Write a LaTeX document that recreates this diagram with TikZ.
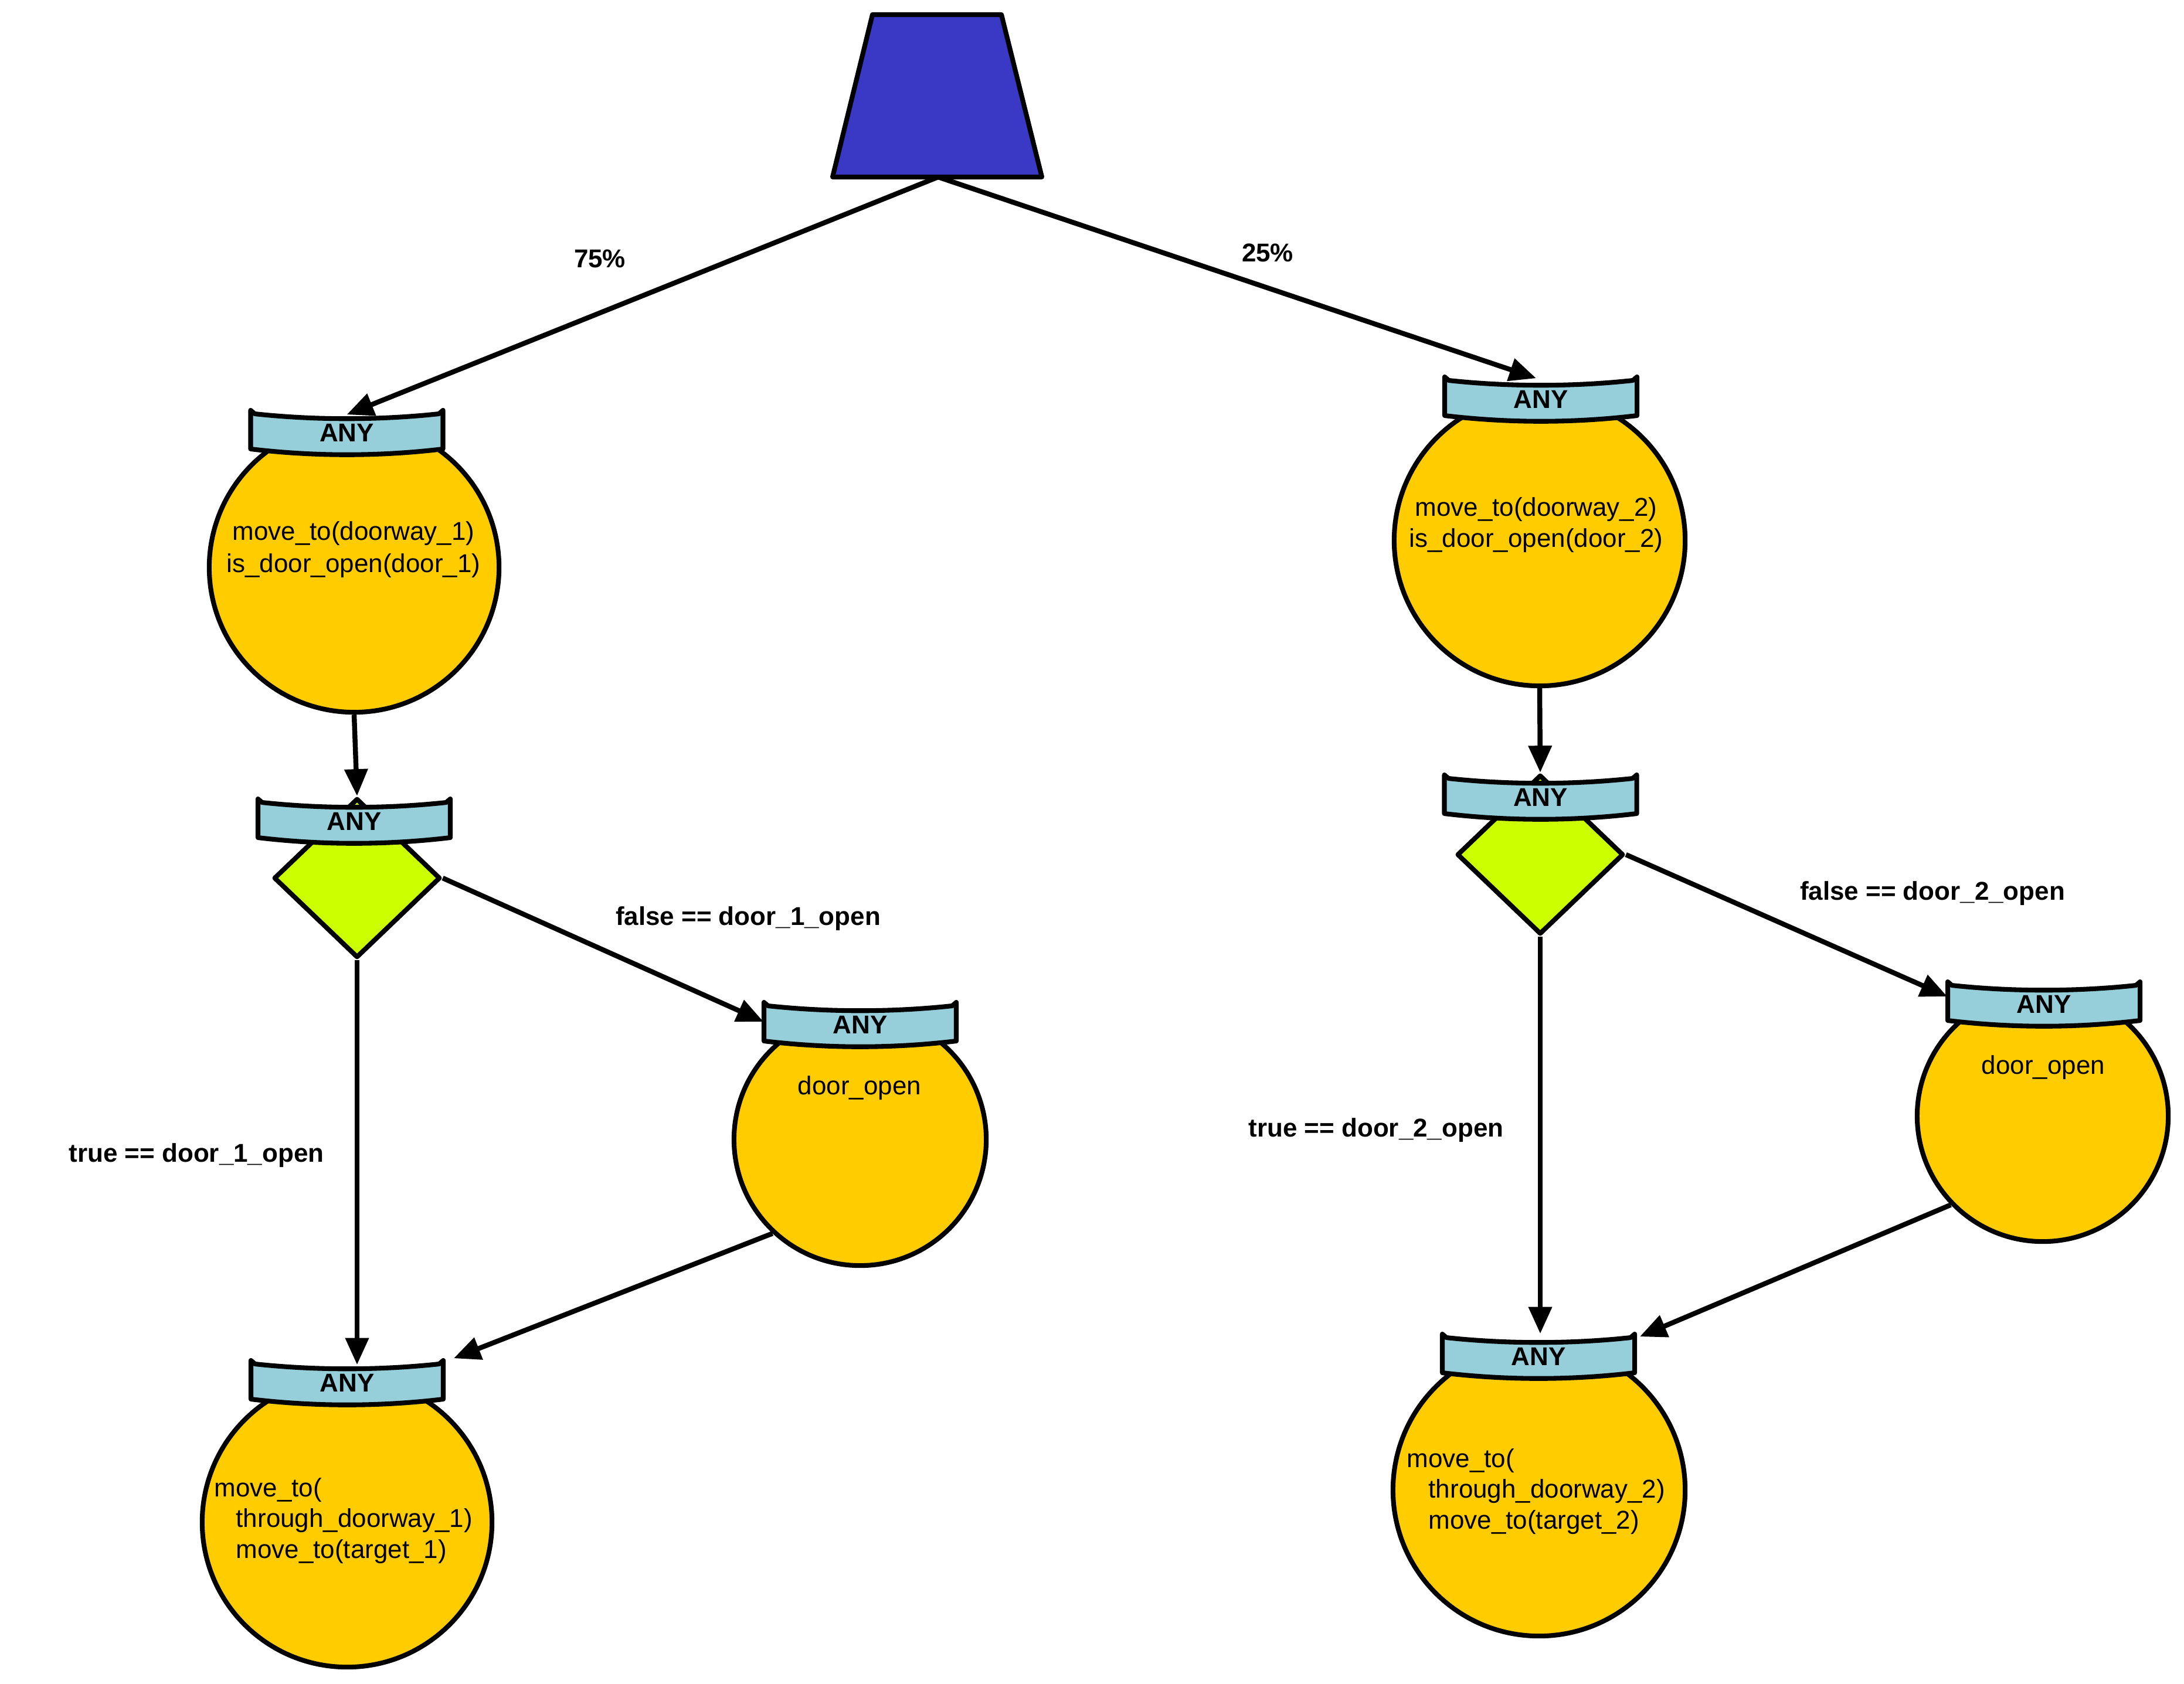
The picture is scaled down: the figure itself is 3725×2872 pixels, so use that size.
\documentclass[tikz,border=0pt]{standalone}
\usepackage{fontspec}
\setmainfont{Liberation Sans}
\usetikzlibrary{arrows.meta,shapes.geometric,calc}

\definecolor{stateyellow}{RGB}{255,204,0}
\definecolor{bannerblue}{RGB}{150,206,218}
\definecolor{condlime}{RGB}{204,255,0}
\definecolor{rootblue}{RGB}{57,57,198}

% curved "ANY" ribbon sitting on top of a node: name, centre x, top y
\newcommand\anybanner[3]{%
  \draw[bannerpath] (#2-164,#3) -- (#2-164,#3+66)
    .. controls (#2-55,#3+79) and (#2+55,#3+79) .. (#2+164,#3+66)
    -- (#2+164,#3) -- (#2+157,#3+6)
    .. controls (#2+55,#3+17) and (#2-55,#3+17) .. (#2-157,#3+6) -- cycle;
  \node[bannerframe] (#1) at (#2,#3+33) {};
  \node[anytext] (#1-t) at (#2,#3+53) {ANY};
}

\begin{document}
\begin{tikzpicture}[x=0.01cm,y=-0.01cm,
  line join=round,
  statenode/.style={circle, draw, line width=2.3pt, fill=stateyellow, inner sep=0pt, minimum size=#1},
  condnode/.style={diamond, draw, line width=2.3pt, fill=condlime, inner sep=0pt,
                   minimum width=2.84cm, minimum height=2.72cm},
  bannerpath/.style={draw, fill=bannerblue, line width=2.3pt},
  bannerframe/.style={rectangle, inner sep=0pt, minimum width=3.28cm, minimum height=0.66cm},
  anytext/.style={font=\fontsize{12.5}{15}\selectfont\bfseries, anchor=base, inner sep=0pt},
  statetext/.style={font=\fontsize{12.5}{15}\selectfont, anchor=base, inner sep=0pt},
  statetextl/.style={statetext, anchor=base west},
  edgelabel/.style={font=\fontsize{12.5}{15}\selectfont\bfseries, anchor=base, inner sep=0pt},
  flow/.style={line width=2.4pt, -{Triangle[length=13pt,width=11pt]}}
]
\useasboundingbox (0,0) rectangle (3725,2872);

% root: probabilistic choice
\draw[fill=rootblue, line width=2.3pt] (1420,302) -- (1488,25) -- (1708,25) -- (1777,302) -- cycle;
\coordinate (root) at (1600,302);

% states and conditions
\node[statenode=4.94cm] (l1) at (604,968) {};
\node[statenode=4.96cm] (r1) at (2626,922) {};
\node[condnode] (ld) at (609,1498) {};
\node[condnode] (rd) at (2627,1458) {};
\node[statenode=4.30cm] (lo) at (1467,1944) {};
\node[statenode=4.28cm] (ro) at (3484,1904) {};
\node[statenode=4.94cm] (lb) at (592,2597) {};
\node[statenode=4.98cm] (rb) at (2625,2542) {};

% ANY ribbons
\anybanner{bl1}{591.5}{700}
\anybanner{br1}{2628}{643}
\anybanner{bld}{604}{1363}
\anybanner{brd}{2627.5}{1322}
\anybanner{blo}{1467}{1710}
\anybanner{bro}{3486}{1675}
\anybanner{blb}{592}{2321}
\anybanner{brb}{2624}{2276}

% state contents
\node[statetext] (l1a) at (603,921) {move\_to(doorway\_1)};
\node[statetext] (l1b) at (603,976) {is\_door\_open(door\_1)};
\node[statetext] (r1a) at (2620,880) {move\_to(doorway\_2)};
\node[statetext] (r1b) at (2620,933) {is\_door\_open(door\_2)};
\node[statetext] (loa) at (1466,1867) {door\_open};
\node[statetext] (roa) at (3485,1832) {door\_open};
\node[statetextl] (lba) at (365,2553) {move\_to(};
\node[statetextl] (lbb) at (402,2605) {through\_doorway\_1)};
\node[statetextl] (lbc) at (402,2658) {move\_to(target\_1)};
\node[statetextl] (rba) at (2399,2503) {move\_to(};
\node[statetextl] (rbb) at (2436,2555) {through\_doorway\_2)};
\node[statetextl] (rbc) at (2436,2608) {move\_to(target\_2)};

% connectors
\draw[flow] (root) -- ($(bl1.north)+(0,8)$);
\draw[flow] (root) -- ($(br1.north)+(-8,3)$);
\draw[flow] (l1.south) -- (ld.north);
\draw[flow] (r1.south) -- (rd.north);
\draw[flow] (ld.east) -- (blo.west);
\draw[flow] (ld.south) -- ($(ld.south |- blb.north)+(0,8)$);
\draw[flow] (lo.227) -- ($(blb.north east)+(17,-3)$);
\draw[flow] (rd.east) -- ($(bro.west)+(0,-8)$);
\draw[flow] (rd.south) -- (rd.south |- brb.north);
\draw[flow] (ro.224) -- ($(brb.north east)+(8,5)$);

% connector labels
\node[edgelabel] (p75) at (1023,456) {75\%};
\node[edgelabel] (p25) at (2162,446) {25\%};
\node[edgelabel] (f1) at (1276,1578) {false == door\_1\_open};
\node[edgelabel] (t1) at (335,1982) {true == door\_1\_open};
\node[edgelabel] (f2) at (3296,1535) {false == door\_2\_open};
\node[edgelabel] (t2) at (2347,1939) {true == door\_2\_open};
\end{tikzpicture}
\end{document}
